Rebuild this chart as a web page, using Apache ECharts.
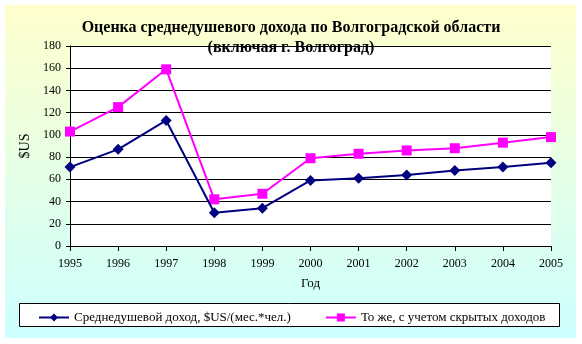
<!DOCTYPE html>
<html><head><meta charset="utf-8">
<script src="https://cdn.jsdelivr.net/npm/echarts@6/dist/echarts.min.js"></script>
<style>html,body{margin:0;padding:0;background:#fff}#c{width:582px;height:344px}</style>
</head><body><div id="c"></div>
<script>
var years = ['1995','1996','1997','1998','1999','2000','2001','2002','2003','2004','2005'];
var income = [71, 87, 113, 30, 34, 59, 61, 64, 68, 71, 75];
var incomeHidden = [103, 125, 159, 42, 47, 79, 83, 86, 88, 93, 98];
var seriesNames = ['Среднедушевой доход, $US/(мес.*чел.)', 'То же, с учетом скрытых доходов'];
var yTicks = [0, 20, 40, 60, 80, 100, 120, 140, 160, 180];

var font = 'Liberation Serif, Times New Roman, serif';
var chart = echarts.init(document.getElementById('c'), null, {renderer: 'canvas'});
chart.setOption({
  animation: false,
  backgroundColor: '#fff',
  graphic: [
    {type: 'rect', z: -10, shape: {x: 5, y: 5, width: 571, height: 333},
     style: {fill: new echarts.graphic.LinearGradient(0, 0, 0, 1, [
       {offset: 0, color: '#ffffcc'}, {offset: 1, color: '#ccffff'}])}},
    {type: 'rect', z: 0, shape: {x: 19.5, y: 303.5, width: 540, height: 23},
     style: {fill: '#fff', stroke: '#000', lineWidth: 1}}
  ],
  title: {
    text: 'Оценка среднедушевого дохода по Волгоградской области\n(включая г. Волгоград)',
    left: 'center', top: 13,
    textStyle: {fontFamily: font, fontWeight: 'bold', fontSize: 16, lineHeight: 20, color: '#000'}
  },
  grid: {left: 70, right: 31, top: 46, bottom: 98, show: true, backgroundColor: '#fff', borderWidth: 0},
  legend: {
    data: seriesNames, top: 306, left: 33, itemGap: 34, itemWidth: 30, itemHeight: 10, z: 5,
    textStyle: {fontFamily: font, fontSize: 13, color: '#000'}
  },
  xAxis: {
    type: 'category', data: years, boundaryGap: false,
    name: 'Год', nameLocation: 'middle', nameGap: 31,
    nameTextStyle: {fontFamily: font, fontSize: 13, color: '#000'},
    axisLine: {lineStyle: {color: '#000', width: 1}},
    axisTick: {show: true, length: 5, lineStyle: {color: '#000'}},
    axisLabel: {fontFamily: font, fontSize: 12, color: '#000', margin: 12}
  },
  yAxis: {
    type: 'value', min: 0, max: 180, interval: 20,
    name: '$US', nameLocation: 'middle', nameGap: 34,
    nameTextStyle: {fontFamily: font, fontSize: 14, color: '#000'},
    axisLine: {show: true, lineStyle: {color: '#000', width: 1}},
    axisTick: {show: true, length: 4, lineStyle: {color: '#000'}},
    axisLabel: {fontFamily: font, fontSize: 12, color: '#000', margin: 9,
      formatter: function (v) { return yTicks.indexOf(v) >= 0 ? String(v) : ''; }},
    splitLine: {show: true, lineStyle: {color: '#000', width: 1}}
  },
  series: [
    {name: seriesNames[0], type: 'line', data: income, symbol: 'diamond', symbolSize: 11,
     lineStyle: {color: '#000080', width: 2}, itemStyle: {color: '#000080'}, z: 3},
    {name: seriesNames[1], type: 'line', data: incomeHidden, symbol: 'rect', symbolSize: 10,
     lineStyle: {color: '#ff00ff', width: 2}, itemStyle: {color: '#ff00ff'}, z: 2}
  ]
});
</script></body></html>
